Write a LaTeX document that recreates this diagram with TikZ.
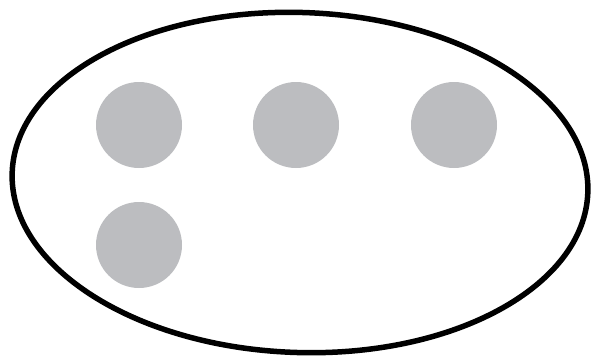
\documentclass[tikz,border=0pt]{standalone}
\usetikzlibrary{shapes.geometric}
\definecolor{dotgrey}{HTML}{BCBDC0}
\tikzset{
  outer/.style={draw=black, line width=5.5pt, ellipse, inner sep=0pt, minimum width=576pt, minimum height=340pt},
  dot/.style={circle, fill=dotgrey, draw=none, inner sep=0pt, minimum size=86pt}
}
\begin{document}
\begin{tikzpicture}[x=1pt,y=-1pt]
\useasboundingbox (0,0) rectangle (593,357);
\node[outer, rotate=-2] (set) at (300,182.5) {};
\node[dot] (d1) at (139,125) {};
\node[dot] (d2) at (296,125) {};
\node[dot] (d3) at (454,125) {};
\node[dot] (d4) at (139,245) {};
\end{tikzpicture}
\end{document}
